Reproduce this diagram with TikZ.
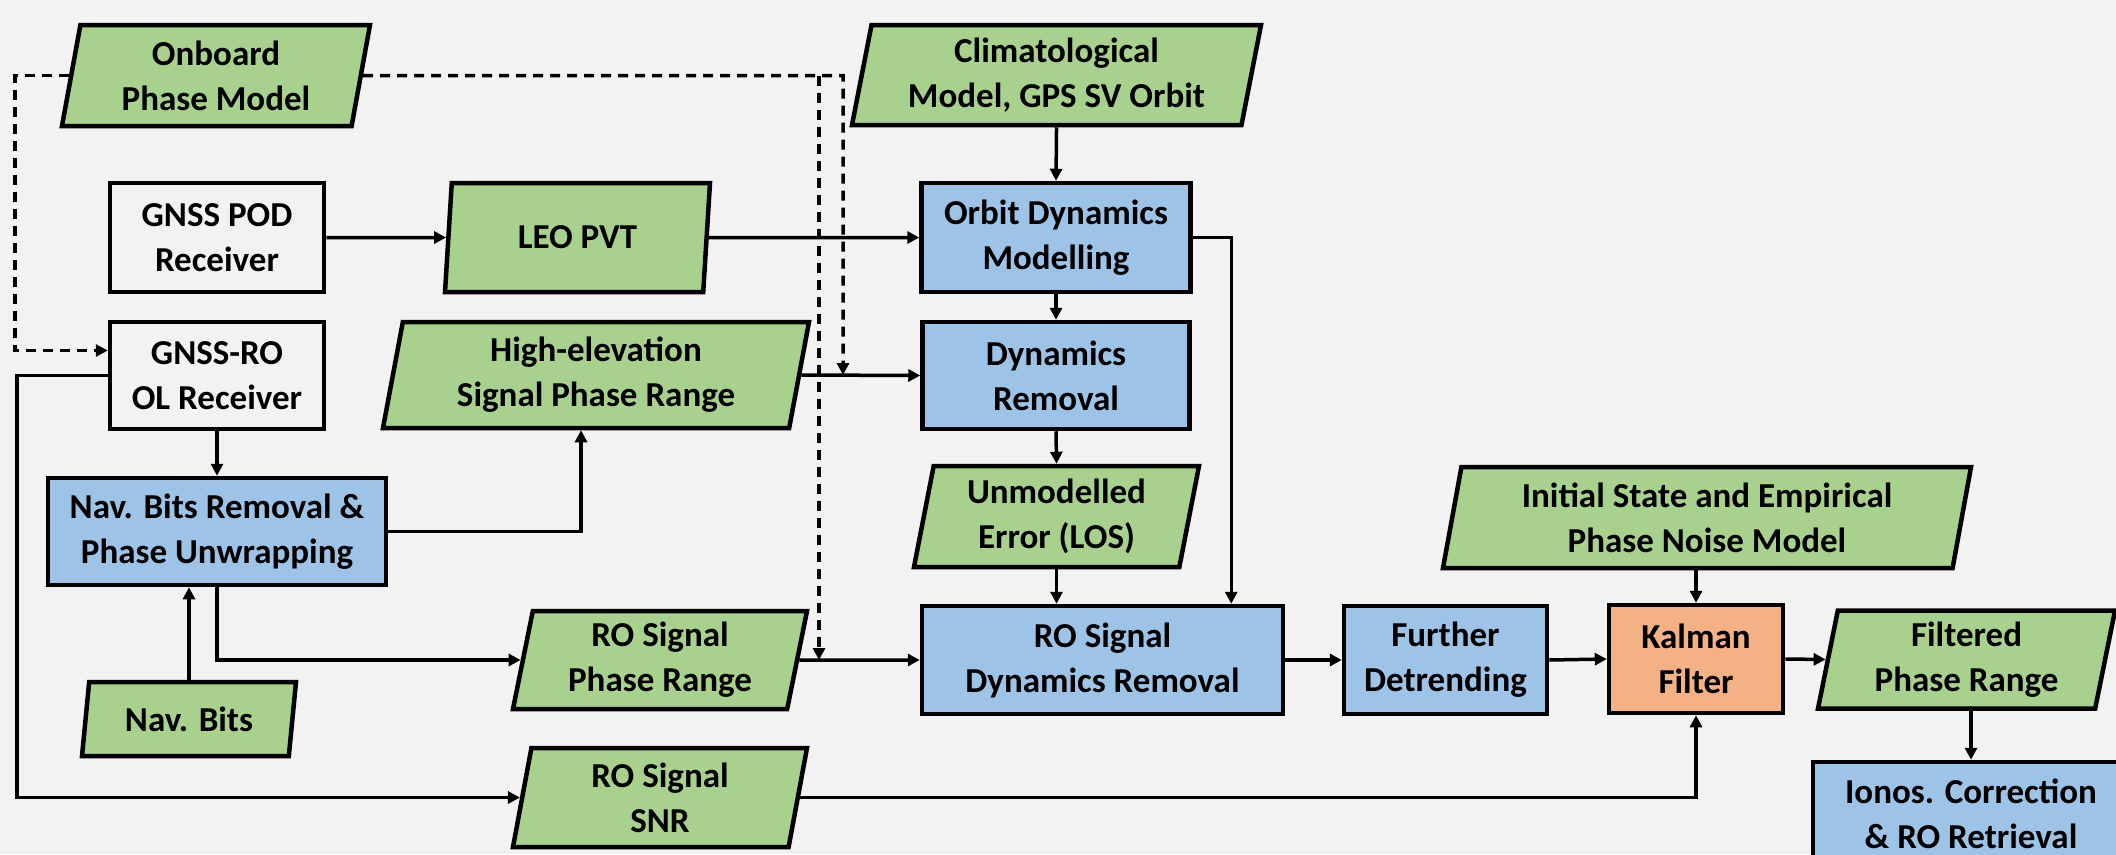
\documentclass[tikz,border=0pt]{standalone}
\usepackage{fontspec}
\setmainfont{Carlito}
\usepackage{tikz}
\usetikzlibrary{arrows.meta, positioning, shapes.geometric}
\definecolor{paper}{RGB}{242,242,242}
\definecolor{softgreen}{RGB}{169,209,142}
\definecolor{softblue}{RGB}{157,195,230}
\definecolor{softorange}{RGB}{244,177,131}

\begin{document}
\begin{tikzpicture}[x=1pt, y=-1pt,
  font=\fontsize{35}{45}\selectfont\bfseries,
  box/.style={draw, line width=4.5pt, align=center, inner sep=2pt},
  hwbox/.style={box, fill=paper},
  procbox/.style={box, fill=softblue},
  kfbox/.style={box, fill=softorange},
  databox/.style={box, fill=softgreen, trapezium, trapezium left angle=76,
    trapezium right angle=104, trapezium stretches body},
  conn/.style={line width=3.5pt, -{Triangle[length=12pt,width=12pt]}},
  dashconn/.style={conn, dash pattern=on 10pt off 7pt}]
  \clip (0,0) rectangle (2116,854);
  \fill[paper] (0,0) rectangle (2116,854);

  \node[databox, minimum width=308pt, minimum height=101pt] (onboard) at (216,75.5) {Onboard\\Phase Model};
  \node[databox, minimum width=409pt, minimum height=100pt] (clim) at (1056.5,75) {Climatological\\Model, GPS SV Orbit};
  \node[hwbox, minimum width=214pt, minimum height=109pt] (pod) at (217,237.5) {GNSS POD\\Receiver};
  \node[databox, minimum width=265pt, minimum height=109pt] (leo) at (577.5,237.5) {LEO PVT};
  \node[procbox, minimum width=269pt, minimum height=109pt] (orbit) at (1056,237.5) {Orbit Dynamics\\Modelling};
  \node[hwbox, minimum width=214pt, minimum height=107pt] (olr) at (217,375.5) {GNSS-RO\\OL Receiver};
  \node[databox, minimum width=426pt, minimum height=106pt] (highel) at (596,375) {High-elevation\\Signal Phase Range};
  \node[procbox, minimum width=267pt, minimum height=107pt] (dynrm) at (1056,375.5) {Dynamics\\Removal};
  \node[procbox, minimum width=338pt, minimum height=107pt] (navrm) at (217,531.5) {Nav. Bits Removal \&\\Phase Unwrapping};
  \node[databox, minimum width=285pt, minimum height=101pt] (unmod) at (1056.5,516.5) {Unmodelled\\Error (LOS)};
  \node[databox, minimum width=528pt, minimum height=101pt] (init) at (1707,517.5) {Initial State and Empirical\\Phase Noise Model};
  \node[databox, minimum width=214pt, minimum height=74pt] (navbits) at (189,719) {Nav. Bits};
  \node[databox, minimum width=294pt, minimum height=98pt] (rophase) at (660,660) {RO Signal\\Phase Range};
  \node[procbox, minimum width=361pt, minimum height=108pt] (rodyn) at (1102.5,660) {RO Signal\\Dynamics Removal};
  \node[procbox, minimum width=203pt, minimum height=108pt] (detrend) at (1445.5,660) {Further\\Detrending};
  \node[kfbox, minimum width=174pt, minimum height=108pt] (kalman) at (1696,659) {Kalman\\Filter};
  \node[databox, minimum width=297pt, minimum height=98pt] (filt) at (1966.5,659.5) {Filtered\\Phase Range};
  \node[databox, minimum width=294pt, minimum height=99pt] (rosnr) at (660,797.5) {RO Signal\\SNR};
  \node[procbox, minimum width=316pt, minimum height=104pt] (ionos) at (1971,814) {Ionos. Correction\\\& RO Retrieval};

  \coordinate (lft) at (17,0);
  \coordinate (dlft) at (15,0);
  \coordinate (dtop) at (843,75.5);
  \coordinate (dbranch) at (819,75.5);

  \draw[conn] (pod.east) -- (leo.west);
  \draw[conn] (leo.east) -- (orbit.west);
  \draw[conn] (clim.south) -- (orbit.north);
  \draw[conn] (orbit.south) -- (dynrm.north);
  \draw[conn] (highel.east) -- (dynrm.west);
  \draw[conn] (dynrm.south) -- (unmod.north);
  \draw[conn] (unmod.south) -- (unmod.south |- rodyn.north);
  \draw[conn] (orbit.east) -| ([xshift=-54pt]rodyn.north east);
  \draw[conn] (olr.south) -- (navrm.north);
  \draw[conn] (navbits.north) -- (navbits.north |- navrm.south);
  \draw[conn] (navrm.east) -| ([xshift=-15pt]highel.south);
  \draw[conn] (navrm.south) |- (rophase.west);
  \draw[conn] (rophase.east) -- (rodyn.west);
  \draw[conn] (rodyn.east) -- (detrend.west);
  \draw[conn] (detrend.east) -- (kalman.west);
  \draw[conn] (kalman.east) -- (filt.west);
  \draw[conn] (kalman.north |- init.south) -- (kalman.north);
  \draw[conn] (rosnr.east) -| (kalman.south);
  \draw[conn] (ionos.north |- filt.south) -- (ionos.north);
  \draw[conn] (olr.west) -- (olr.west -| lft) |- (rosnr.west);

  \draw[dashconn] (onboard.west) -| ([yshift=25pt]olr.west -| dlft) -- ([yshift=25pt]olr.west);
  \draw[dashconn] (onboard.east) -- (dtop) -- (dtop |- highel.east);
  \draw[dashconn] (dbranch) -- (dbranch |- rophase.east);
\end{tikzpicture}
\end{document}
